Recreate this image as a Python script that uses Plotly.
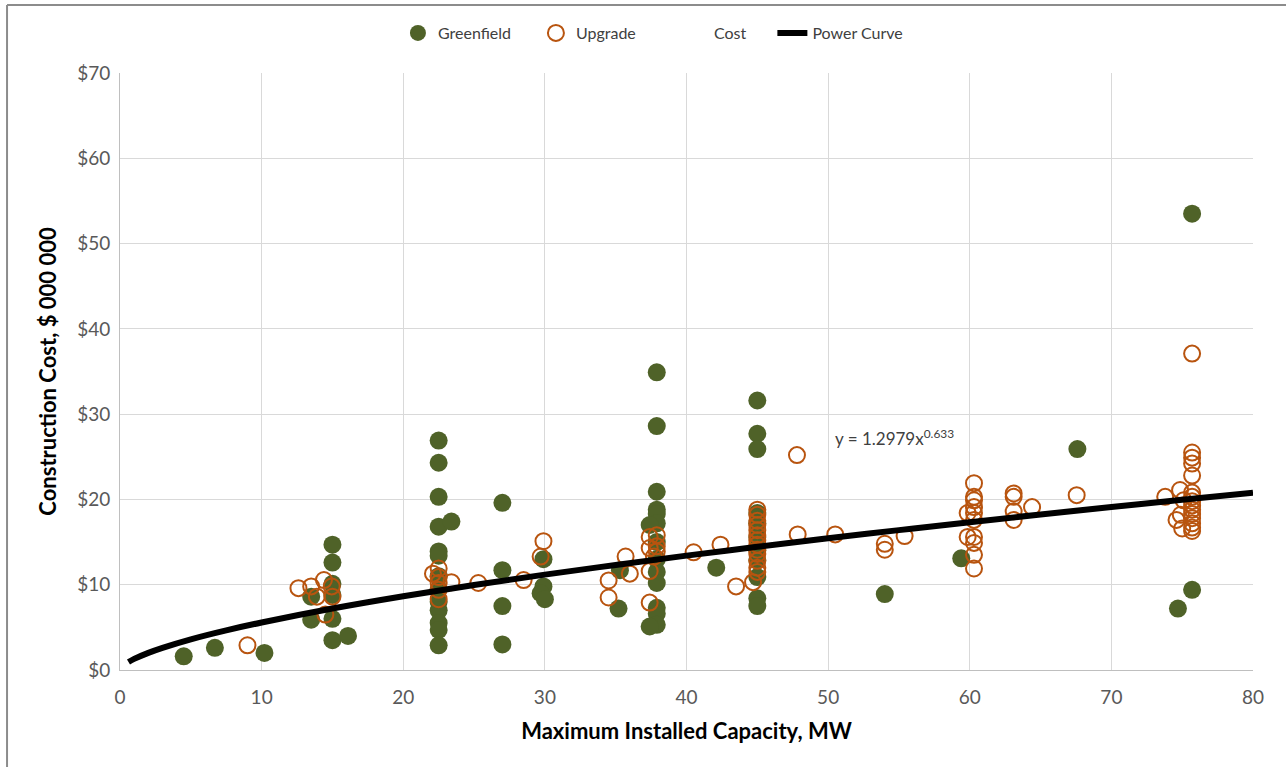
import plotly.graph_objects as go

# Greenfield projects (filled)
green_x = [4.5, 6.7, 10.2, 13.5, 13.5, 15.0, 15.0, 15.0, 15.0, 15.0, 15.0, 16.1,
           22.5, 22.5, 22.5, 22.5, 22.5, 22.5, 22.5, 22.5, 22.5, 22.5, 22.5, 22.5, 22.5, 23.4,
           27.0, 27.0, 27.0, 27.0, 29.9, 29.9, 29.7, 30.0, 35.2, 35.3,
           37.9, 37.9, 37.9, 37.9, 37.9, 37.9, 37.9, 37.9, 37.9, 37.9, 37.9, 37.9, 37.9, 37.4, 37.4,
           42.1, 45.0, 45.0, 45.0, 45.0, 45.0, 45.0, 45.0, 45.0, 45.0, 45.0, 45.0,
           54.0, 59.4, 67.6, 74.7, 75.7, 75.7]
green_y = [1.6, 2.6, 2.0, 8.6, 5.9, 14.7, 12.6, 10.1, 8.8, 6.0, 3.5, 4.0,
           26.9, 24.3, 20.3, 16.8, 13.9, 13.4, 11.0, 9.5, 8.0, 7.0, 5.5, 4.7, 2.9, 17.4,
           19.6, 11.7, 7.5, 3.0, 13.0, 9.8, 9.0, 8.3, 7.2, 11.7,
           34.9, 28.6, 20.9, 18.8, 18.3, 17.2, 15.0, 13.0, 11.5, 10.2, 7.3, 6.6, 5.3, 17.0, 5.1,
           12.0, 31.6, 27.7, 25.9, 18.4, 17.2, 15.6, 14.0, 12.9, 10.9, 8.4, 7.5,
           8.9, 13.1, 25.9, 7.2, 9.4, 53.5]

# Upgrade projects (open)
upg_x = [9.0, 12.6, 13.5, 14.4, 13.9, 14.95, 15.0, 14.5,
         22.1, 22.5, 22.5, 22.5, 22.5, 22.5, 23.4, 25.3, 28.5, 29.9, 29.7,
         34.5, 34.5, 35.7, 36.0, 37.4, 37.9, 37.4, 37.9, 37.9, 37.7, 37.4, 37.4, 40.5, 42.4, 43.5,
         45.0, 45.0, 45.0, 45.0, 45.0, 45.0, 45.0, 45.0, 45.0, 45.0, 45.0, 45.0, 45.0, 44.7,
         47.8, 47.85, 50.5, 54.0, 54.0, 55.4,
         60.3, 60.3, 60.3, 60.3, 60.3, 60.3, 60.3, 60.3, 60.3, 60.3, 59.85, 59.85,
         63.1, 63.1, 63.1, 63.1, 64.4, 67.55,
         75.7, 75.7, 75.7, 75.7, 75.7, 75.7, 75.7, 75.7, 75.7, 75.7, 75.7, 75.7, 75.7, 75.7, 75.7,
         73.8, 74.85, 75.1, 74.9, 75.0, 74.6]
upg_y = [2.9, 9.6, 9.8, 10.55, 8.6, 9.8, 8.6, 6.5,
         11.3, 11.9, 10.9, 10.2, 9.4, 8.3, 10.3, 10.2, 10.55, 15.1, 13.3,
         10.5, 8.5, 13.3, 11.3, 15.6, 15.8, 14.3, 14.5, 13.9, 13.3, 11.6, 7.9, 13.8, 14.7, 9.8,
         18.8, 18.2, 17.5, 17.0, 16.4, 15.8, 15.2, 14.7, 14.1, 13.6, 12.8, 12.0, 11.5, 10.3,
         25.2, 15.9, 15.9, 14.8, 14.1, 15.7,
         21.9, 20.3, 19.9, 19.1, 18.4, 17.6, 15.6, 14.9, 13.5, 11.9, 18.4, 15.6,
         20.7, 20.3, 18.6, 17.6, 19.1, 20.5,
         37.1, 25.5, 24.9, 24.2, 22.8, 20.8, 20.3, 19.8, 19.3, 18.8, 18.3, 17.8, 17.2, 16.7, 16.3,
         20.3, 21.1, 19.9, 18.2, 16.6, 17.6]

# Power curve trendline
curve_x = [0.6, 1, 2, 3, 5, 7.5, 10, 15, 20, 25, 30, 35, 40, 45, 50, 55, 60, 65, 70, 75, 80]
curve_y = [0.94, 1.30, 2.01, 2.60, 3.60, 4.65, 5.57, 7.21, 8.65, 9.96, 11.18, 12.32, 13.41,
           14.44, 15.44, 16.40, 17.33, 18.24, 19.11, 19.96, 20.80]

x_ticks = [0, 10, 20, 30, 40, 50, 60, 70, 80]
y_ticks = [0, 10, 20, 30, 40, 50, 60, 70]
y_tick_labels = ["$0", "$10", "$20", "$30", "$40", "$50", "$60", "$70"]

FONT = "Lato"
GREEN = "#4f6228"
ORANGE = "#b8540f"
LEGEND_FONT = dict(family=FONT, size=16, color="#404040")

fig = go.Figure()
fig.add_trace(go.Scatter(x=green_x, y=green_y, mode="markers", name="Greenfield",
                         marker=dict(color=GREEN, size=18, line=dict(width=0))))
fig.add_trace(go.Scatter(x=upg_x, y=upg_y, mode="markers", name="Upgrade",
                         marker=dict(color="rgba(0,0,0,0)", size=16,
                                     line=dict(color=ORANGE, width=2))))
fig.add_trace(go.Scatter(x=[None], y=[None], mode="markers", name="Cost",
                         marker=dict(color="rgba(0,0,0,0)", size=1)))
fig.add_trace(go.Scatter(x=curve_x, y=curve_y, mode="lines", name="Power Curve",
                         legend="legend2",
                         line=dict(color="black", width=6, shape="spline")))

fig.add_annotation(x=50.35, y=27.3, xref="x", yref="y", xanchor="left", yanchor="middle",
                   text="y = 1.2979x<sup>0.633</sup>", showarrow=False,
                   font=dict(family=FONT, size=17, color="#404040"))

# outer chart border (top and left visible)
fig.add_shape(type="line", xref="paper", yref="paper", x0=-0.0997, x1=1.2, y0=1.1139, y1=1.1139,
              line=dict(color="#8c8c8c", width=2))
fig.add_shape(type="line", xref="paper", yref="paper", x0=-0.0997, x1=-0.0997, y0=1.1139, y1=-0.3,
              line=dict(color="#8c8c8c", width=2))

fig.update_layout(
    width=1286, height=767,
    margin=dict(l=120, r=33, t=73, b=97),
    paper_bgcolor="white", plot_bgcolor="white",
    font=dict(family=FONT, color="#595959"),
    showlegend=True,
    legend=dict(orientation="h", x=0.2453, xanchor="left", y=1.067, yanchor="middle",
                entrywidth=93, itemwidth=30,
                font=LEGEND_FONT, bgcolor="rgba(0,0,0,0)"),
    legend2=dict(orientation="h", x=0.5758, xanchor="left", y=1.067, yanchor="middle",
                 itemwidth=30, font=LEGEND_FONT, bgcolor="rgba(0,0,0,0)"),
    xaxis=dict(range=[0, 80], tickvals=x_ticks, showgrid=True, gridcolor="#d9d9d9",
               showline=True, linecolor="#bfbfbf", linewidth=1, zeroline=False,
               ticks="", ticklabelstandoff=10,
               tickfont=dict(family=FONT, size=19, color="#595959"),
               title=dict(text="<b>Maximum Installed Capacity, MW</b>", standoff=16,
                          font=dict(family=FONT, size=22, color="#000000"))),
    yaxis=dict(range=[0, 70], tickvals=y_ticks, ticktext=y_tick_labels, showgrid=True,
               gridcolor="#d9d9d9", showline=True, linecolor="#bfbfbf", linewidth=1,
               zeroline=False, ticks="", ticklabelstandoff=5,
               tickfont=dict(family=FONT, size=19, color="#595959"),
               title=dict(text="<b>Construction Cost, $ 000 000</b>", standoff=14,
                          font=dict(family=FONT, size=22, color="#000000"))),
)

fig.write_html("out.html")
